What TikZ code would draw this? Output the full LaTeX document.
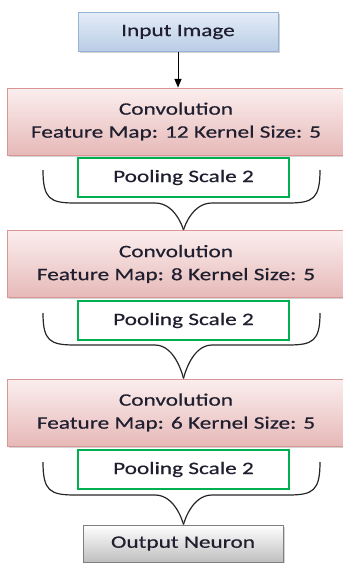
\documentclass[tikz,border=0pt]{standalone}
\usepackage{fontspec}
\setmainfont{Carlito}
\newfontfamily\boxfont[FakeStretch=1.33,FakeBold=0.5]{Carlito}
\usetikzlibrary{arrows,shadows}

\definecolor{inedge}{HTML}{95B3D7}
\definecolor{intop}{HTML}{E4ECF7}
\definecolor{inbot}{HTML}{B9CDE5}
\definecolor{convedge}{HTML}{D99694}
\definecolor{convtop}{HTML}{FBEEEE}
\definecolor{convbot}{HTML}{E6B9B8}
\definecolor{pooledge}{HTML}{00B050}
\definecolor{outedge}{HTML}{7F7F7F}
\definecolor{outbot}{HTML}{BFBFBF}
\definecolor{txt}{HTML}{1F1F2F}

\tikzset{
    box/.style={rectangle,inner sep=0pt,align=center,text=txt,font=\boxfont\fontsize{17.5}{23}\selectfont,
        drop shadow={shadow xshift=1.5pt,shadow yshift=-1.5pt,opacity=0.35}},
    inbox/.style={box,draw=inedge,line width=1pt,top color=intop,bottom color=inbot,
        minimum width=200pt,minimum height=39pt},
    convbox/.style={box,draw=convedge,line width=1pt,top color=convtop,bottom color=convbot,
        minimum width=338pt,minimum height=67pt},
    poolbox/.style={rectangle,draw=pooledge,line width=1.2pt,fill=white,text=txt,
        font=\boxfont\fontsize{17.5}{23}\selectfont,minimum width=211pt,minimum height=39pt},
    outbox/.style={box,draw=outedge,line width=1pt,top color=white,bottom color=outbot,
        minimum width=200pt,minimum height=37pt},
    brace/.style={draw=black!85,line width=1.2pt}
}

\begin{document}
\begin{tikzpicture}[x=1pt,y=-1pt,>=triangle 45]
    \useasboundingbox (0,0) rectangle (343,563);
    \node[inbox] (in) at (178,32) {Input Image};
    \node[convbox] (c1) at (176,121.5) {Convolution\\Feature Map: 12 Kernel Size: 5};
    \node[poolbox] (p1) at (183.5,177.5) {Pooling Scale 2};
    \node[convbox] (c2) at (176,264) {Convolution\\Feature Map: 8 Kernel Size: 5};
    \node[poolbox] (p2) at (183.5,320.5) {Pooling Scale 2};
    \node[convbox] (c3) at (176,412.5) {Convolution\\Feature Map: 6 Kernel Size: 5};
    \node[poolbox] (p3) at (183.5,469.5) {Pooling Scale 2};
    \node[outbox] (out) at (183,543.5) {Output Neuron};

    \path[->,line width=1pt](in) edge node {} (in |- c1.north);

    % braces under the pooling boxes
    \draw[brace] (43,170) .. controls (43,199) and (50,203) .. (75,203) -- (155,203)
        .. controls (176,203) and (p1 |- c2.north) .. (p1 |- c2.north);
    \draw[brace] (320,170) .. controls (320,199) and (313,203) .. (288,203) -- (212,203)
        .. controls (191,203) and (p1 |- c2.north) .. (p1 |- c2.north);
    \draw[brace] (43,313) .. controls (43,341) and (50,345) .. (75,345) -- (155,345)
        .. controls (176,345) and (p2 |- c3.north) .. (p2 |- c3.north);
    \draw[brace] (320,313) .. controls (320,341) and (313,345) .. (288,345) -- (212,345)
        .. controls (191,345) and (p2 |- c3.north) .. (p2 |- c3.north);
    \draw[brace] (43,462) .. controls (43,491) and (50,495) .. (75,495) -- (155,495)
        .. controls (176,495) and (p3 |- out.north) .. (p3 |- out.north);
    \draw[brace] (320,462) .. controls (320,491) and (313,495) .. (288,495) -- (212,495)
        .. controls (191,495) and (p3 |- out.north) .. (p3 |- out.north);
\end{tikzpicture}
\end{document}
